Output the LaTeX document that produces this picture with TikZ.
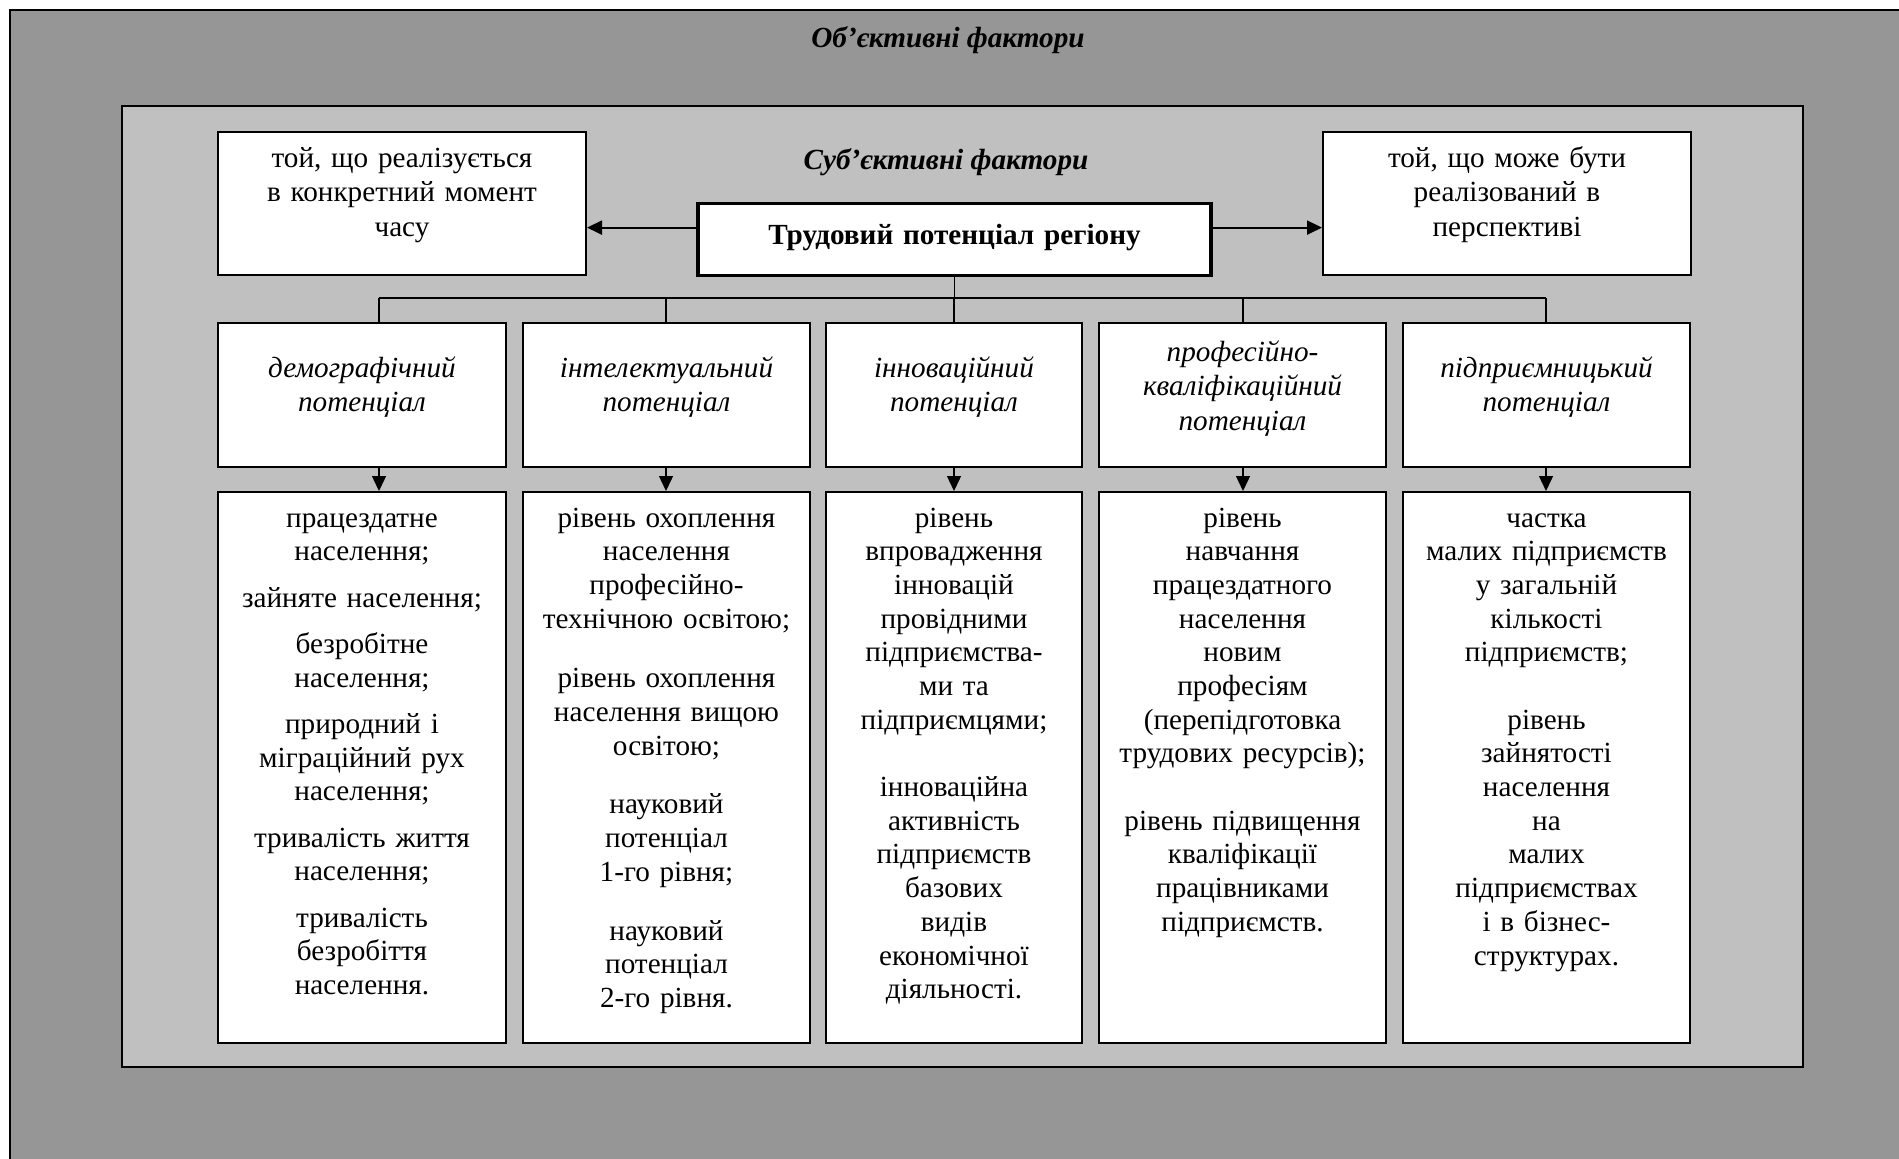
\documentclass[tikz,border=0pt]{standalone}
\usepackage{fontspec}
\setmainfont{Liberation Serif}
\usetikzlibrary{arrows.meta}
\definecolor{outergray}{RGB}{150,150,150}
\definecolor{innergray}{RGB}{192,192,192}
\tikzset{
  box/.style={draw,fill=white,line width=1pt,anchor=north,inner sep=0pt,align=center},
  sidebox/.style={box,text width=184pt,text height=17.5pt,text depth=54pt,font=\fontsize{14.6}{17.25}\selectfont},
  potbox/.style={box,text width=#1,text height=27pt,text depth=45pt,font=\fontsize{14.6}{17.25}\selectfont\itshape},
  listbox/.style={box,text width=#1,text height=17.5pt,text depth=258pt},
  link/.style={line width=0.65pt}
}
\begin{document}
\begin{tikzpicture}[x=0.5pt,y=-0.5pt,font=\fontsize{14.6}{16.85}\selectfont,>={Triangle[length=7.5pt,width=7pt]}]% pixel coordinates
\useasboundingbox (0,0) rectangle (1899,1158);
\clip (0,0) rectangle (1899,1158);
% two frames
\draw[fill=outergray,line width=1pt] (10,10) rectangle (1950,1210);
\draw[fill=innergray,line width=1.2pt] (122,106) rectangle (1803,1067);
\node (obj) at (948,40) {\bfseries\itshape Об’єктивні фактори};
\node (subj) at (946,162) {\bfseries\itshape Суб’єктивні фактори};
% top row
\node[sidebox] (now) at (402,131) {той, що реалізується\\в конкретний момент\\часу};
\node[box,line width=1.6pt,text width=256.5pt,text height=20.2pt,text depth=15.8pt] (tp) at (954.5,202) {\bfseries Трудовий потенціал регіону};
\node[sidebox] (fut) at (1507,131) {той, що може бути\\реалізований в\\перспективі};
\draw[->,line width=1pt] ([yshift=6pt]tp.west) -- ([yshift=6pt]tp.west -| now.east);
\draw[->,line width=1pt] ([yshift=6pt]tp.east) -- ([yshift=6pt]tp.east -| fut.west);
% kinds of potential
\node[potbox=144pt] (p1) at (362,322) {демографічний\\потенціал};
\node[potbox=143.5pt] (p2) at (666.5,322) {інтелектуальний\\потенціал};
\node[potbox=128pt] (p3) at (954,322) {інноваційний\\потенціал};
\node[potbox=143.5pt,text height=19pt,text depth=53pt] (p4) at (1242.5,322) {професійно-\\кваліфікаційний\\потенціал};
\node[potbox=143.5pt] (p5) at (1546.5,322) {підприємницький\\потенціал};
% indicators
\node[listbox=144pt] (l1) at (362,491) {працездатне\\населення;\\[6.3pt]зайняте населення;\\[6.3pt]безробітне\\населення;\\[6.3pt]природний і\\міграційний рух\\населення;\\[6.3pt]тривалість життя\\населення;\\[6.3pt]тривалість\\безробіття\\населення.};
\node[listbox=143.5pt] (l2) at (666.5,491) {рівень охоплення\\населення\\професійно-\\технічною освітою;\\[13pt]рівень охоплення\\населення вищою\\освітою;\\[12.5pt]науковий\\потенціал\\1-го рівня;\\[12.5pt]науковий\\потенціал\\2-го рівня.};
\node[listbox=128pt] (l3) at (954,491) {рівень\\впровадження\\інновацій\\провідними\\підприємства-\\ми та\\підприємцями;\\[16.8pt]інноваційна\\активність\\підприємств\\базових\\видів\\економічної\\діяльності.};
\node[listbox=143.5pt] (l4) at (1242.5,491) {рівень\\навчання\\працездатного\\населення\\новим\\професіям\\(перепідготовка\\трудових ресурсів);\\[16.8pt]рівень підвищення\\кваліфікації\\працівниками\\підприємств.};
\node[listbox=143.5pt] (l5) at (1546.5,491) {частка\\малих підприємств\\у загальній\\кількості\\підприємств;\\[16.8pt]рівень\\зайнятості\\населення\\на\\малих\\підприємствах\\і в бізнес-\\структурах.};
% tree
\coordinate (bus) at (0,298);
\draw[link] (tp.south) -- (tp.south |- bus);
\foreach \i/\x in {1/379,2/666,3/954,4/1243,5/1546}{
  \coordinate (d\i) at (\x,298);
  \draw[link] (d\i) -- (d\i |- p\i.north);
  \draw[link,->] (d\i |- p\i.south) -- (d\i |- l\i.north);}
\draw[link] (d1) -- (d5);
\end{tikzpicture}
\end{document}
